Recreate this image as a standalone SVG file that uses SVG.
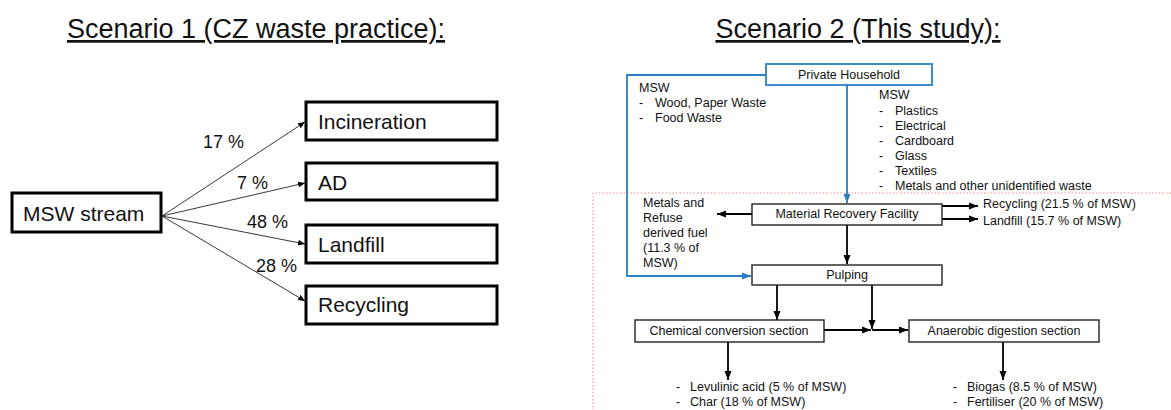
<svg xmlns="http://www.w3.org/2000/svg" width="1171" height="410" viewBox="0 0 1171 410">
<defs>
<style>
.t{font-family:"Liberation Sans",Arial,sans-serif;fill:#111}
.title{font-size:27px;text-decoration:underline}
.big{font-size:21px}
.pct{font-size:18px}
.sm{font-size:12.5px}
.box1{fill:#fff;stroke:#000;stroke-width:3}
.box2{fill:#fff;stroke:#222;stroke-width:1.4}
.boxb{fill:#fff;stroke:#2a7fc4;stroke-width:1.8}
.thin{stroke:#222;stroke-width:0.9;fill:none}
.ar{stroke:#000;stroke-width:1.8;fill:none}
.blue{stroke:#2a7fc4;stroke-width:1.8;fill:none}
.red{stroke:#f08c8c;stroke-width:1;stroke-dasharray:1.5 2;fill:none}
</style>
<marker id="ms" markerUnits="userSpaceOnUse" markerWidth="8" markerHeight="8" refX="7" refY="4" orient="auto"><path d="M0,1 L7,4 L0,7 Z" fill="#000"/></marker>
<marker id="mb" markerUnits="userSpaceOnUse" markerWidth="10" markerHeight="10" refX="9" refY="5" orient="auto"><path d="M0,1.5 L9,5 L0,8.5 Z" fill="#000"/></marker>
<marker id="mbl" markerUnits="userSpaceOnUse" markerWidth="10" markerHeight="10" refX="9" refY="5" orient="auto"><path d="M0,1.5 L9,5 L0,8.5 Z" fill="#2a7fc4"/></marker>
</defs>
<rect width="1171" height="410" fill="#fff"/>

<text class="t title" x="256" y="38" text-anchor="middle">Scenario 1 (CZ waste practice):</text>
<text class="t title" x="858" y="38" text-anchor="middle">Scenario 2 (This study):</text>

<g id="connectors">
<line class="thin" x1="162" y1="216" x2="305" y2="122" marker-end="url(#ms)"/>
<line class="thin" x1="162" y1="216" x2="305" y2="183" marker-end="url(#ms)"/>
<line class="thin" x1="162" y1="216" x2="305" y2="244" marker-end="url(#ms)"/>
<line class="thin" x1="162" y1="216" x2="305" y2="301" marker-end="url(#ms)"/>
<text class="t pct" x="203" y="148">17 %</text>
<text class="t pct" x="237" y="189">7 %</text>
<text class="t pct" x="247" y="228">48 %</text>
<text class="t pct" x="256" y="272">28 %</text>

<path class="red" d="M1171,193 H593 V410"/>
<polyline class="blue" points="766,75 627,75 627,276 751,276" marker-end="url(#mbl)"/>
<line class="blue" x1="847" y1="85" x2="847" y2="203" marker-end="url(#mbl)"/>
<line class="ar" x1="752" y1="214" x2="717" y2="214" marker-end="url(#mb)"/>
<line class="ar" x1="942" y1="206" x2="978" y2="206" marker-end="url(#mb)"/>
<line class="ar" x1="942" y1="219" x2="978" y2="219" marker-end="url(#mb)"/>
<line class="ar" x1="847" y1="225" x2="847" y2="264" marker-end="url(#mb)"/>
<line class="ar" x1="777" y1="285" x2="777" y2="320" marker-end="url(#mb)"/>
<line class="ar" x1="872" y1="285" x2="872" y2="329" marker-end="url(#mb)"/>
<line class="ar" x1="824" y1="330" x2="871" y2="330" marker-end="url(#mb)"/>
<line class="ar" x1="872" y1="330" x2="908" y2="330" marker-end="url(#mb)"/>
<line class="ar" x1="728" y1="342" x2="728" y2="380" marker-end="url(#mb)"/>
<line class="ar" x1="1003" y1="342" x2="1003" y2="380" marker-end="url(#mb)"/>
</g>

<g id="msw-stream"><rect class="box1" x="12" y="193" width="149" height="39"/><text class="t big" x="23" y="221">MSW stream</text></g>
<g id="incineration"><rect class="box1" x="306" y="102" width="191" height="38"/><text class="t big" x="318" y="129">Incineration</text></g>
<g id="ad"><rect class="box1" x="306" y="163" width="191" height="37"/><text class="t big" x="318" y="190">AD</text></g>
<g id="landfill"><rect class="box1" x="306" y="225" width="191" height="38"/><text class="t big" x="318" y="252">Landfill</text></g>
<g id="recycling"><rect class="box1" x="306" y="286" width="191" height="38"/><text class="t big" x="318" y="312">Recycling</text></g>

<g id="private-household"><rect class="boxb" x="766" y="64" width="166" height="21"/><text class="t sm" x="849" y="79" text-anchor="middle">Private Household</text></g>
<g id="msw-left">
<text class="t sm" x="639" y="92">MSW</text>
<text class="t sm" x="639" y="107">-</text><text class="t sm" x="655" y="107">Wood, Paper Waste</text>
<text class="t sm" x="639" y="122">-</text><text class="t sm" x="655" y="122">Food Waste</text>
</g>
<g id="msw-right">
<text class="t sm" x="879" y="99">MSW</text>
<text class="t sm" x="879" y="115">-</text><text class="t sm" x="895" y="115">Plastics</text>
<text class="t sm" x="879" y="130">-</text><text class="t sm" x="895" y="130">Electrical</text>
<text class="t sm" x="879" y="145">-</text><text class="t sm" x="895" y="145">Cardboard</text>
<text class="t sm" x="879" y="160">-</text><text class="t sm" x="895" y="160">Glass</text>
<text class="t sm" x="879" y="175">-</text><text class="t sm" x="895" y="175">Textiles</text>
<text class="t sm" x="879" y="190">-</text><text class="t sm" x="895" y="190">Metals and other unidentified waste</text>
</g>
<g id="mrf"><rect class="box2" x="752" y="204" width="190" height="21"/><text class="t sm" x="847" y="218" text-anchor="middle">Material Recovery Facility</text></g>
<g id="metals-rdf">
<text class="t sm" x="643" y="207">Metals and</text>
<text class="t sm" x="643" y="222">Refuse</text>
<text class="t sm" x="643" y="237">derived fuel</text>
<text class="t sm" x="643" y="252">(11.3 % of</text>
<text class="t sm" x="643" y="267">MSW)</text>
</g>
<g id="recycling-out"><text class="t sm" x="983" y="208">Recycling (21.5 % of MSW)</text></g>
<g id="landfill-out"><text class="t sm" x="983" y="225">Landfill (15.7 % of MSW)</text></g>
<g id="pulping"><rect class="box2" x="752" y="265" width="190" height="20"/><text class="t sm" x="847" y="279" text-anchor="middle">Pulping</text></g>
<g id="chemical"><rect class="box2" x="635" y="320" width="189" height="22"/><text class="t sm" x="729" y="335" text-anchor="middle">Chemical conversion section</text></g>
<g id="anaerobic"><rect class="box2" x="909" y="320" width="190" height="22"/><text class="t sm" x="1004" y="335" text-anchor="middle">Anaerobic digestion section</text></g>
<g id="chem-products">
<text class="t sm" x="676" y="391">-</text><text class="t sm" x="690" y="391">Levulinic acid (5 % of MSW)</text>
<text class="t sm" x="676" y="406">-</text><text class="t sm" x="690" y="406">Char (18 % of MSW)</text>
</g>
<g id="ad-products">
<text class="t sm" x="953" y="391">-</text><text class="t sm" x="967" y="391">Biogas (8.5 % of MSW)</text>
<text class="t sm" x="953" y="406">-</text><text class="t sm" x="967" y="406">Fertiliser (20 % of MSW)</text>
</g>
</svg>
